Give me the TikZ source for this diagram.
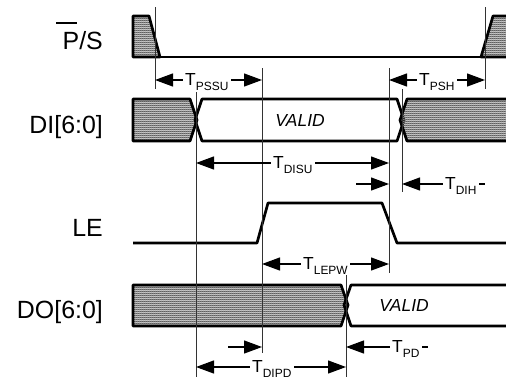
\documentclass[tikz,border=0pt]{standalone}
\usepackage{fontspec}
\setmainfont{Liberation Sans}
\usetikzlibrary{arrows.meta,patterns.meta}
\tikzdeclarepattern{
  name=chk,
  type=colored,
  bottom left={(0bp,0bp)},
  top right={(2bp,2bp)},
  tile size={(2bp,2bp)},
  code={
    \fill[black!35] (0bp,0bp) rectangle (2bp,2bp);
    \fill[black!90] (0bp,0bp) rectangle (1bp,1bp);
    \fill[black!90] (1bp,1bp) rectangle (2bp,2bp);
  }
}
\newcommand{\Tlab}[1]{T\raisebox{-5.5bp}{\fontsize{12}{12}\selectfont #1}}
\begin{document}
\begin{tikzpicture}[x=1bp,y=-1bp,
  sig/.style={line width=2.7bp, line join=round},
  hatch/.style={sig, pattern=chk},
  refl/.style={line width=0.9bp, black!80},
  dim/.style={line width=1.2bp, -{Triangle[length=18bp,width=13bp]}},
  tailseg/.style={line width=1.2bp},
  tl/.style={inner xsep=2.5bp, inner ysep=0pt, anchor=base west, font=\fontsize{17.5}{17.5}\selectfont},
  sl/.style={inner sep=0pt, anchor=base east, font=\fontsize{25}{25}\selectfont},
  vl/.style={inner sep=0pt, anchor=base, font=\fontsize{17.5}{17.5}\selectfont\itshape}]
\useasboundingbox (0,0) rectangle (506,379);

% signal names
\node[sl] (ps) at (103,49) {P/S};
\draw[line width=1.1bp] (56,23) -- (77,23);
\node[sl] (di) at (103,133) {DI[6:0]};
\node[sl] (le) at (103,236) {LE};
\node[sl] (do) at (103,318) {DO[6:0]};

% P/S
\draw[hatch] (133,16) -- (149,16) -- (160,57) -- (133,57) -- cycle;
\draw[sig] (160,57) -- (481,57);
\draw[hatch] (481,57) -- (493,16) -- (512,16) -- (512,57) -- cycle;

% DI
\draw[hatch] (133,99) -- (190,99) -- (197,120) -- (190,141) -- (133,141) -- cycle;
\draw[sig] (202,99) -- (397,99) -- (404,120) -- (397,141) -- (202,141) -- (195,120) -- cycle;
\draw[hatch] (512,99) -- (407,99) -- (400,120) -- (407,141) -- (512,141) -- cycle;
\node[vl] (v1) at (300,126) {VALID};

% LE
\draw[sig] (133,243) -- (257,243) -- (268,203) -- (382,203) -- (397,243) -- (512,243);

% DO
\draw[hatch] (133,285) -- (341,285) -- (348,305) -- (341,326) -- (133,326) -- cycle;
\draw[sig] (512,285) -- (351,285) -- (344,305) -- (351,326) -- (512,326);
\node[vl] (v2) at (404,311) {VALID};

% reference lines
\coordinate (r1t) at (155,7);   \coordinate (r1b) at (155,89);
\coordinate (r2t) at (262,68);  \coordinate (r2b) at (262,353);
\coordinate (r3t) at (389,68);  \coordinate (r3b) at (389,273);
\coordinate (r4t) at (485,7);   \coordinate (r4b) at (485,89);
\coordinate (r5t) at (196,92);  \coordinate (r5b) at (196,377);
\coordinate (r6t) at (402,89);  \coordinate (r6b) at (402,192);
\coordinate (r7t) at (346,275); \coordinate (r7b) at (346,377);
\foreach \i in {1,...,7} {\draw[refl] (r\i t) -- (r\i b);}

% T_PSSU
\node[tl] (pssu) at (182.5,85) {\Tlab{PSSU}};
\coordinate (pssuL) at (155,80); \coordinate (pssuR) at (262,80);
\draw[dim] (pssu.west |- pssuL) -- (pssuL);
\draw[dim] (pssu.east |- pssuR) -- (pssuR);

% T_PSH
\node[tl] (psh) at (416.5,85) {\Tlab{PSH}};
\coordinate (pshL) at (389,80); \coordinate (pshR) at (485,80);
\draw[dim] (psh.west |- pshL) -- (pshL);
\draw[dim] (psh.east |- pshR) -- (pshR);

% T_DISU
\node[tl] (disu) at (270.5,168) {\Tlab{DISU}};
\coordinate (disuL) at (196,163); \coordinate (disuR) at (389,163);
\draw[dim] (disu.west |- disuL) -- (disuL);
\draw[dim] (disu.east |- disuR) -- (disuR);

% T_DIH
\node[tl] (dih) at (442.5,189) {\Tlab{DIH}};
\coordinate (dihL) at (402,184); \coordinate (dihR) at (389,184);
\coordinate (dihS) at (356,184); \coordinate (dihE) at (485,184);
\draw[dim] (dih.west |- dihL) -- (dihL);
\draw[dim] (dihS) -- (dihR);
\draw[tailseg] (dih.east |- dihE) -- (dihE);

% T_LEPW
\node[tl] (lepw) at (300.5,269) {\Tlab{LEPW}};
\coordinate (lepwL) at (262,264); \coordinate (lepwR) at (389,264);
\draw[dim] (lepw.west |- lepwL) -- (lepwL);
\draw[dim] (lepw.east |- lepwR) -- (lepwR);

% T_PD
\node[tl] (pd) at (389.5,352) {\Tlab{PD}};
\coordinate (pdL) at (346,347); \coordinate (pdR) at (262,347);
\coordinate (pdS) at (228,347); \coordinate (pdE) at (428,347);
\draw[dim] (pd.west |- pdL) -- (pdL);
\draw[dim] (pdS) -- (pdR);
\draw[tailseg] (pd.east |- pdE) -- (pdE);

% T_DIPD
\node[tl] (dipd) at (249.5,372) {\Tlab{DIPD}};
\coordinate (dipdL) at (196,367); \coordinate (dipdR) at (346,367);
\draw[dim] (dipd.west |- dipdL) -- (dipdL);
\draw[dim] (dipd.east |- dipdR) -- (dipdR);
\end{tikzpicture}
\end{document}
